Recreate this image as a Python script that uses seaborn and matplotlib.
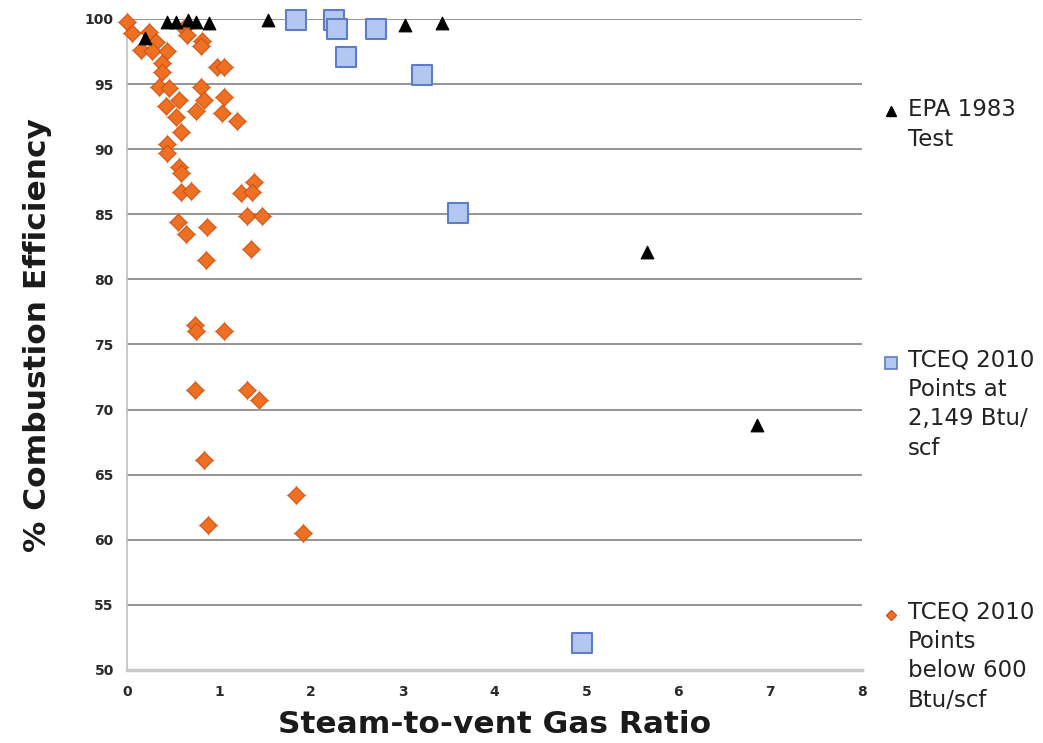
import numpy as np
import matplotlib
matplotlib.use('Agg')
import matplotlib.pyplot as plt
import seaborn as sns
from matplotlib.lines import Line2D
from matplotlib.legend_handler import HandlerLine2D

# EPA 1983 Test (triangulos negros)
epa_x = [0.20, 0.44, 0.53, 0.66, 0.75, 0.89, 1.53, 3.03, 3.43, 5.66, 6.86]
epa_y = [98.5, 99.8, 99.8, 99.9, 99.8, 99.7, 99.9, 99.5, 99.7, 82.1, 68.8]

# TCEQ 2010 a 2,149 Btu/scf (cuadrados azules)
tceq_x = [1.84, 2.25, 2.28, 2.38, 2.71, 3.21, 3.60, 4.95]
tceq_y = [99.9, 99.9, 99.2, 97.1, 99.2, 95.7, 85.1, 52.1]

# TCEQ 2010 por debajo de 600 Btu/scf (rombos naranjas)
below_x = [0.00, 0.05, 0.24, 0.31, 0.15, 0.27, 0.43, 0.38, 0.62, 0.65,
           0.82, 0.80, 0.98, 1.05, 0.38, 0.35, 0.46, 0.80, 1.05, 0.84,
           0.57, 0.42, 0.75, 1.03, 1.20, 0.53, 0.59, 0.44, 0.44, 0.57,
           0.59, 0.59, 0.70, 1.38, 1.24, 1.36, 0.55, 0.64, 0.87, 1.31,
           1.47, 0.86, 1.35, 0.74, 0.75, 1.06, 0.74, 1.31, 1.44, 0.84,
           1.84, 0.88, 1.91]
below_y = [99.8, 98.9, 99.0, 98.2, 97.6, 97.5, 97.5, 96.6, 99.3, 98.8,
           98.3, 97.9, 96.3, 96.3, 95.9, 94.8, 94.7, 94.8, 94.0, 93.8,
           93.8, 93.3, 92.9, 92.8, 92.2, 92.5, 91.3, 90.4, 89.7, 88.6,
           88.2, 86.7, 86.8, 87.5, 86.6, 86.7, 84.4, 83.5, 84.0, 84.9,
           84.9, 81.5, 82.3, 76.5, 76.0, 76.0, 71.5, 71.5, 70.7, 66.1,
           63.4, 61.1, 60.5]

labels = ['EPA 1983\nTest',
          'TCEQ 2010\nPoints at\n2,149 Btu/\nscf',
          'TCEQ 2010\nPoints\nbelow 600\nBtu/scf']


class FirstLineHandler(HandlerLine2D):
    # pone el marcador a la altura de la primera linea del texto
    def __init__(self, shift, **kw):
        super().__init__(**kw)
        self.shift = shift

    def create_artists(self, legend, orig_handle, xdescent, ydescent,
                       width, height, fontsize, trans):
        arts = super().create_artists(legend, orig_handle, xdescent, ydescent,
                                      width, height, fontsize, trans)
        for a in arts:
            a.set_ydata(np.asarray(a.get_ydata()) + self.shift)
        return arts


sns.set_style("white")
plt.rcParams['font.family'] = ['DejaVu Sans']

fig = plt.figure(figsize=(10.43, 7.43), dpi=100)
ax = fig.add_axes([0.1218, 0.0983, 0.7047, 0.8762])

# rombos naranjas con sus pequenas cruces
ax.scatter(below_x, below_y, marker='+', s=210, color='#f6a86a',
           linewidths=1.0, clip_on=False, zorder=3)
sns.scatterplot(x=below_x, y=below_y, marker='D', s=72, color='#ee7022',
                edgecolor='#d15212', linewidth=0.8, ax=ax, clip_on=False,
                zorder=4, legend=False)
sns.scatterplot(x=tceq_x, y=tceq_y, marker='s', s=210, color='#b3c8f0',
                edgecolor='#5f7cc6', linewidth=1.5, ax=ax, clip_on=False,
                zorder=5, legend=False)
sns.scatterplot(x=epa_x, y=epa_y, marker='^', s=85, color='black',
                edgecolor='black', ax=ax, clip_on=False, zorder=6, legend=False)

ax.set_xlim(0, 8)
ax.set_ylim(50, 100)
ax.set_xticks(range(0, 9))
ax.set_yticks(range(50, 101, 5))
ax.yaxis.grid(True, color='#8c8c8c', linewidth=1.3)
ax.xaxis.grid(False)
ax.set_axisbelow(True)

ax.spines['top'].set_visible(False)
ax.spines['right'].set_visible(False)
ax.spines['left'].set_color('#c0c0c0')
ax.spines['left'].set_linewidth(1.2)
ax.spines['bottom'].set_color('#c8c8c8')
ax.spines['bottom'].set_linewidth(2.5)

ax.tick_params(axis='both', direction='out', length=4, width=1,
               color='#a0a0a0', labelsize=10, labelcolor='#2a2a2a')
ax.tick_params(axis='y', pad=5.5)
ax.tick_params(axis='x', pad=7)
for lbl in ax.get_xticklabels() + ax.get_yticklabels():
    lbl.set_fontweight('bold')

ax.set_xlabel('Steam-to-vent Gas Ratio', fontsize=22.5, fontweight='bold',
              color='#1a1a1a')
ax.set_ylabel('% Combustion Efficiency', fontsize=22.5, fontweight='bold',
              color='#1a1a1a')
ax.xaxis.set_label_coords(0.5, -0.061)
ax.yaxis.set_label_coords(-0.102, 0.515)

# leyenda: una por serie, a la derecha
handles = [
    Line2D([], [], marker='^', color='black', linestyle='none', markersize=7),
    Line2D([], [], marker='s', markerfacecolor='#b3c8f0', markeredgecolor='#5f7cc6',
           linestyle='none', markersize=8, markeredgewidth=1.2),
    Line2D([], [], marker='D', markerfacecolor='#ee7022', markeredgecolor='#d15212',
           linestyle='none', markersize=5.5),
]
tops = [0.868, 0.531, 0.192]
step = 20
for h, lab, top in zip(handles, labels, tops):
    n = lab.count('\n') + 1
    leg = fig.legend(handles=[h], labels=[lab], loc='upper left',
                     bbox_to_anchor=(0.844, top), frameon=False, fontsize=16.5,
                     borderpad=0, borderaxespad=0, handlelength=0.95,
                     handletextpad=0.25,
                     handler_map={h: FirstLineHandler((n - 1) / 2 * step)})
    for t in leg.get_texts():
        t.set_linespacing(1.36)
        t.set_color('#222222')

fig.savefig('out.png', dpi=100)
